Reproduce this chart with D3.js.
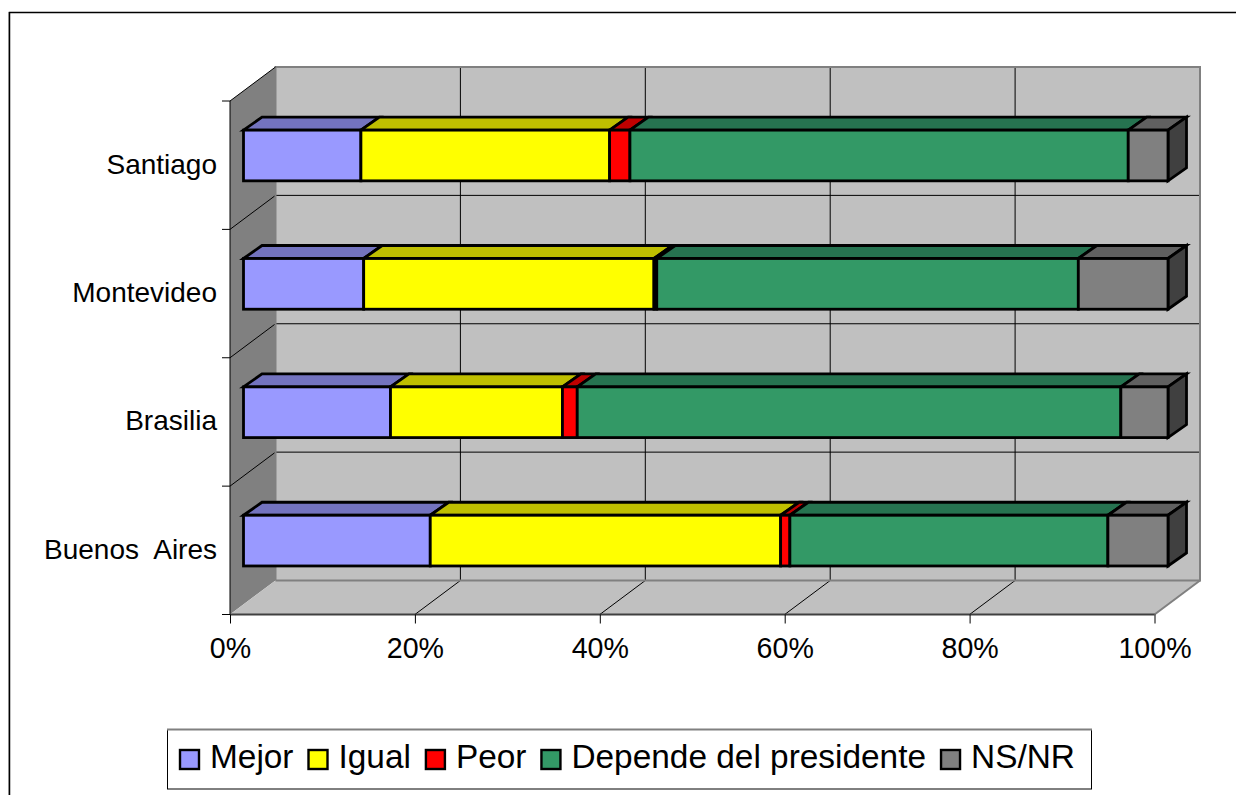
<!DOCTYPE html>
<html><head><meta charset="utf-8">
<style>html,body{margin:0;padding:0;background:#fff;overflow:hidden}svg{display:block}text{font-family:"Liberation Sans",Arial,sans-serif;fill:#000}</style>
<script src="https://cdn.jsdelivr.net/npm/d3@7"></script></head><body>
<svg id="c" width="1236" height="795"></svg>
<script>
const categories=["Santiago","Montevideo","Brasilia","Buenos Aires"];
const seriesNames=["Mejor","Igual","Peor","Depende del presidente","NS/NR"];
const mejor=[12.7,13.0,15.9,20.2];
const igual=[26.9,31.4,18.6,37.9];
const peor=[2.2,0.3,1.6,1.0];
const depende=[53.9,45.6,58.8,34.4];
const nsnr=[4.3,9.7,5.1,6.5];
const xTicks=[0,20,40,60,80,100];

const frontColors=["#9999FF","#FFFF00","#FF0000","#339966","#808080"];
const topColors=["#7373BF","#BFBF00","#BF0000","#267350","#606060"];
const sideColor="#404040";

const svg=d3.select("#c");
const L=230,R=1154.5,T=101,B=614.5;
const dX=45.5,dY=-34;          // chart depth
const bX=13.5,bY=-9.7;         // bar front plane offset
const tX=18.5,tY=-13;          // bar depth

const x=d3.scaleLinear().domain([0,100]).range([L,R]);
const y=d3.scaleBand().domain(categories).range([T,B]).paddingInner(0.605).paddingOuter(0.3025);

const rows=categories.map((c,i)=>({cat:c,Mejor:mejor[i],Igual:igual[i],Peor:peor[i],"Depende del presidente":depende[i],"NS/NR":nsnr[i]}));
const stack=d3.stack().keys(seriesNames)(rows);

// frame
svg.append("rect").attr("x",8).attr("y",12).attr("width",1).attr("height",783).attr("fill","#bbb");
svg.append("path").attr("d","M9.5,795V12.5H1236").attr("fill","none").attr("stroke","#000").attr("stroke-width",1.5);

// walls
const poly=a=>a.map(p=>p.join(",")).join(" ");
svg.append("polygon").attr("points",poly([[L,T],[L+dX,T+dY],[L+dX,B+dY],[L,B]])).attr("fill","#808080");
svg.append("polygon").attr("points",poly([[L,B],[L+dX,B+dY],[R+dX,B+dY],[R,B]])).attr("fill","#C0C0C0");
svg.append("rect").attr("x",L+dX).attr("y",T+dY).attr("width",R-L).attr("height",B-T).attr("fill","#C0C0C0");

// gridlines
const edges=categories.map((c,i)=>T+i*(B-T)/categories.length).concat([B]);
const grid=svg.append("g").attr("stroke","#000").attr("stroke-width",1).attr("fill","none");
grid.selectAll(".h").data(edges.slice(1,-1)).join("path").attr("d",d=>`M${L},${d}L${L+dX},${d+dY}H${R+dX}`);
grid.selectAll(".v").data(xTicks.slice(1,-1)).join("path").attr("d",d=>`M${x(d)},${B}L${x(d)+dX},${B+dY}V${T+dY}`);

// wall borders
svg.append("path").attr("d",`M${L+dX},${B+dY}V${T+dY}H${R+dX}V${B+dY}H${L+dX}`).attr("fill","none").attr("stroke","#808080").attr("stroke-width",2);
svg.append("path").attr("d",`M${R},${B}L${R+dX},${B+dY}`).attr("fill","none").attr("stroke","#808080").attr("stroke-width",2);
svg.append("path").attr("d",`M${L},${B}L${L},${T}L${L+dX},${T+dY}`).attr("fill","none").attr("stroke","#000").attr("stroke-width",1);
svg.append("path").attr("d",`M${L},${B}H${R}`).attr("fill","none").attr("stroke","#404040").attr("stroke-width",2);

// axis ticks
svg.append("g").attr("stroke","#000").selectAll("line").data(edges).join("line")
  .attr("x1",L-8).attr("x2",L).attr("y1",d=>d).attr("y2",d=>d);
const xAxis=d3.axisBottom(x).tickValues(xTicks).tickFormat(d=>d+"%").tickSize(9).tickSizeOuter(0);
const gx=svg.append("g").attr("transform",`translate(0,${B})`).call(xAxis);
gx.select(".domain").remove();
gx.selectAll("line").attr("stroke","#000");
gx.selectAll("text").attr("font-size",28.6).attr("dy",0).attr("y",43).style("font-family",'"Liberation Sans"').attr("fill","#000");

// category labels
svg.selectAll(".cat").data(categories).join("text").attr("class","cat")
  .attr("x",217).attr("y",d=>y(d)+y.bandwidth()/2+8.5).attr("text-anchor","end").attr("font-size",28)
  .attr("word-spacing",8).text(d=>d);

// bars
const bars=svg.append("g").attr("stroke","#000").attr("stroke-width",2.8).attr("stroke-linejoin","miter");
stack.forEach((s,si)=>{
  const g=bars.append("g");
  s.forEach(d=>{
    const cat=d.data.cat;
    const x0=x(d[0])+bX,x1=x(d[1])+bX,y0=y(cat)+bY,h=y.bandwidth();
    g.append("polygon").attr("fill",topColors[si]).attr("points",poly([[x0,y0],[x0+tX,y0+tY],[x1+tX,y0+tY],[x1,y0]]));
    if(si===stack.length-1){
      g.append("polygon").attr("fill",sideColor).attr("points",poly([[x1,y0],[x1+tX,y0+tY],[x1+tX,y0+tY+h],[x1,y0+h]]));
    }
  });
});
stack.forEach((s,si)=>{
  const g=bars.append("g");
  s.forEach(d=>{
    g.append("rect").attr("x",x(d[0])+bX).attr("y",y(d.data.cat)+bY).attr("width",x(d[1])-x(d[0])).attr("height",y.bandwidth()).attr("fill",frontColors[si]);
  });
});

// legend
const lg=svg.append("g");
lg.append("rect").attr("x",167.5).attr("y",729.5).attr("width",924).attr("height",59.5).attr("fill","#fff").attr("stroke","#000").attr("stroke-width",1);
lg.append("line").attr("x1",167).attr("x2",1092).attr("y1",729.5).attr("y2",729.5).attr("stroke","#808080").attr("stroke-width",2);
let cx=180;
seriesNames.forEach((n,i)=>{
  lg.append("rect").attr("x",cx).attr("y",750).attr("width",19).attr("height",19).attr("fill",frontColors[i]).attr("stroke","#000").attr("stroke-width",2.4);
  const t=lg.append("text").attr("x",cx+30).attr("y",768).attr("font-size",33.4).text(n);
  cx+=30+t.node().getComputedTextLength()+15;
});
</script></body></html>
